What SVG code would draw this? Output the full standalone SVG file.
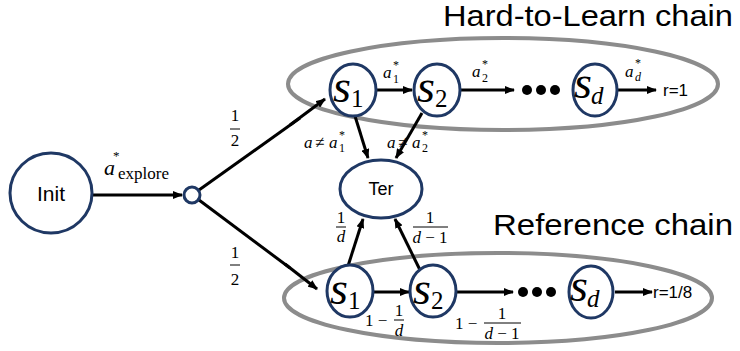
<svg xmlns="http://www.w3.org/2000/svg" width="740" height="351" viewBox="0 0 740 351">
<defs>
<marker id="ah" markerWidth="10" markerHeight="8" refX="9" refY="4" orient="auto" markerUnits="userSpaceOnUse">
<path d="M0,0 L10,4 L0,8 z" fill="#000"/>
</marker>
<style>
.chain{fill:none;stroke:#8c8c8c;stroke-width:4}
.node{fill:#fff;stroke:#1f3864;stroke-width:3}
.edge{stroke:#000;stroke-width:3;fill:none}
.arr{stroke:#000;stroke-width:3;fill:none;marker-end:url(#ah)}
.sv{font-family:"Liberation Serif",serif;font-style:italic;font-size:46px}
.sub{font-family:"Liberation Serif",serif;font-size:25px}
.subi{font-family:"Liberation Serif",serif;font-style:italic;font-size:25px}
.m{font-family:"Liberation Serif",serif;font-style:italic;font-size:17px}
.mn{font-family:"Liberation Serif",serif;font-size:17px}
.ms{font-family:"Liberation Serif",serif;font-size:12px}
.msi{font-family:"Liberation Serif",serif;font-style:italic;font-size:12px}
.lbl{font-family:"Liberation Sans",Arial,sans-serif;font-size:17px}
.title{font-family:"Liberation Sans",Arial,sans-serif;font-size:30px}
.dot{fill:#000}
.bar{stroke:#000;stroke-width:1}
</style>
</defs>

<text class="title" x="443" y="26" textLength="290" lengthAdjust="spacingAndGlyphs">Hard-to-Learn chain</text>
<text class="title" x="493" y="235" textLength="240" lengthAdjust="spacingAndGlyphs">Reference chain</text>

<ellipse class="chain" cx="503" cy="84" rx="215" ry="46"/>
<ellipse class="chain" cx="498" cy="298" rx="214" ry="45"/>

<g id="connectors">
<line class="arr" x1="92" y1="195" x2="182" y2="195"/>
<line class="edge" x1="199" y1="190" x2="300" y2="118"/>
<line class="arr" x1="290" y1="125" x2="325" y2="99"/>
<line class="edge" x1="199" y1="200" x2="290" y2="268"/>
<line class="arr" x1="285" y1="264" x2="317" y2="289"/>
<line class="arr" x1="377" y1="90" x2="412" y2="90"/>
<line class="arr" x1="460" y1="90" x2="514" y2="90"/>
<line class="arr" x1="618" y1="90" x2="656" y2="90"/>
<line class="arr" x1="355" y1="116" x2="368" y2="158"/>
<line class="arr" x1="422" y1="113" x2="396" y2="158"/>
<line class="arr" x1="348" y1="266" x2="363" y2="219"/>
<line class="arr" x1="420" y1="270" x2="395" y2="219"/>
<line class="arr" x1="374" y1="292" x2="409" y2="292"/>
<line class="arr" x1="457" y1="292" x2="513" y2="292"/>
<line class="arr" x1="615" y1="292" x2="652" y2="292"/>
</g>

<g id="init">
<ellipse class="node" cx="51" cy="193" rx="41" ry="40"/>
<text class="lbl" x="51" y="201" text-anchor="middle" style="font-size:21px">Init</text>
</g>
<g id="branch">
<circle class="node" cx="192" cy="195" r="8"/>
</g>
<g id="ter">
<ellipse class="node" cx="381" cy="189" rx="41" ry="29"/>
<text class="lbl" x="381" y="195" text-anchor="middle" style="font-size:18px">Ter</text>
</g>

<g id="h1">
<ellipse class="node" cx="353" cy="90" rx="23" ry="26"/>
<text class="sv" x="333" y="102">s</text><text class="sub" x="351" y="107">1</text>
</g>
<g id="h2">
<ellipse class="node" cx="437" cy="90" rx="23" ry="26"/>
<text class="sv" x="417" y="102">s</text><text class="sub" x="435" y="107">2</text>
</g>
<g id="hdots">
<circle class="dot" cx="527" cy="90" r="5"/><circle class="dot" cx="541" cy="90" r="5"/><circle class="dot" cx="555" cy="90" r="5"/>
</g>
<g id="hd">
<ellipse class="node" cx="595" cy="90" rx="22" ry="26"/>
<text class="sv" x="574" y="98">s</text><text class="subi" x="591" y="104">d</text>
</g>
<text class="lbl" x="663" y="96">r=1</text>

<g id="r1">
<ellipse class="node" cx="350" cy="291" rx="23" ry="26"/>
<text class="sv" x="330" y="304">s</text><text class="sub" x="348" y="309">1</text>
</g>
<g id="r2">
<ellipse class="node" cx="433" cy="291" rx="23" ry="26"/>
<text class="sv" x="413" y="304">s</text><text class="sub" x="431" y="309">2</text>
</g>
<g id="rdots">
<circle class="dot" cx="523" cy="292" r="5"/><circle class="dot" cx="537" cy="292" r="5"/><circle class="dot" cx="551" cy="292" r="5"/>
</g>
<g id="rd">
<ellipse class="node" cx="591" cy="292" rx="22" ry="26"/>
<text class="sv" x="570" y="301">s</text><text class="subi" x="587" y="307">d</text>
</g>
<text class="lbl" x="653" y="298">r=1/8</text>

<!-- labels -->
<text class="mn"><tspan x="104" y="175" style="font-size:22px;font-style:italic">a</tspan><tspan x="113" y="160" style="font-size:13px">*</tspan><tspan x="118" y="179">explore</tspan></text>

<text class="mn" x="235" y="121" text-anchor="middle">1</text><line class="bar" x1="230" y1="129" x2="240" y2="129"/><text class="mn" x="235" y="146" text-anchor="middle">2</text>
<text class="mn" x="235" y="258" text-anchor="middle">1</text><line class="bar" x1="230" y1="265" x2="240" y2="265"/><text class="mn" x="235" y="285" text-anchor="middle">2</text>

<text class="m" x="383" y="78">a</text><text class="ms" x="393" y="69">*</text><text class="ms" x="393" y="83">1</text>
<text class="m" x="472" y="77">a</text><text class="ms" x="482" y="68">*</text><text class="ms" x="482" y="82">2</text>
<text class="m" x="625" y="77">a</text><text class="ms" x="635" y="67">*</text><text class="msi" x="635" y="81">d</text>

<text class="m" x="304" y="148">a</text><text class="mn" x="315" y="148">≠</text><text class="m" x="329" y="148">a</text><text class="ms" x="339" y="139">*</text><text class="ms" x="339" y="152">1</text>
<text class="m" x="387" y="148">a</text><text class="mn" x="398" y="148">≠</text><text class="m" x="412" y="148">a</text><text class="ms" x="422" y="139">*</text><text class="ms" x="422" y="152">2</text>

<text class="mn" x="341" y="223" text-anchor="middle">1</text><line class="bar" x1="336" y1="227" x2="346" y2="227"/><text class="m" x="341" y="242" text-anchor="middle">d</text>
<text class="mn" x="430" y="223" text-anchor="middle">1</text><line class="bar" x1="413" y1="227" x2="448" y2="227"/><text class="mn" x="430" y="243" text-anchor="middle"><tspan font-style="italic">d</tspan> − 1</text>

<text class="mn" x="365" y="326">1 −</text><text class="mn" x="399" y="316" text-anchor="middle">1</text><line class="bar" x1="394" y1="320" x2="404" y2="320"/><text class="m" x="399" y="336" text-anchor="middle">d</text>
<text class="mn" x="455" y="329">1 −</text><text class="mn" x="502" y="319" text-anchor="middle">1</text><line class="bar" x1="484" y1="323" x2="521" y2="323"/><text class="mn" x="502" y="339" text-anchor="middle"><tspan font-style="italic">d</tspan> − 1</text>
</svg>
